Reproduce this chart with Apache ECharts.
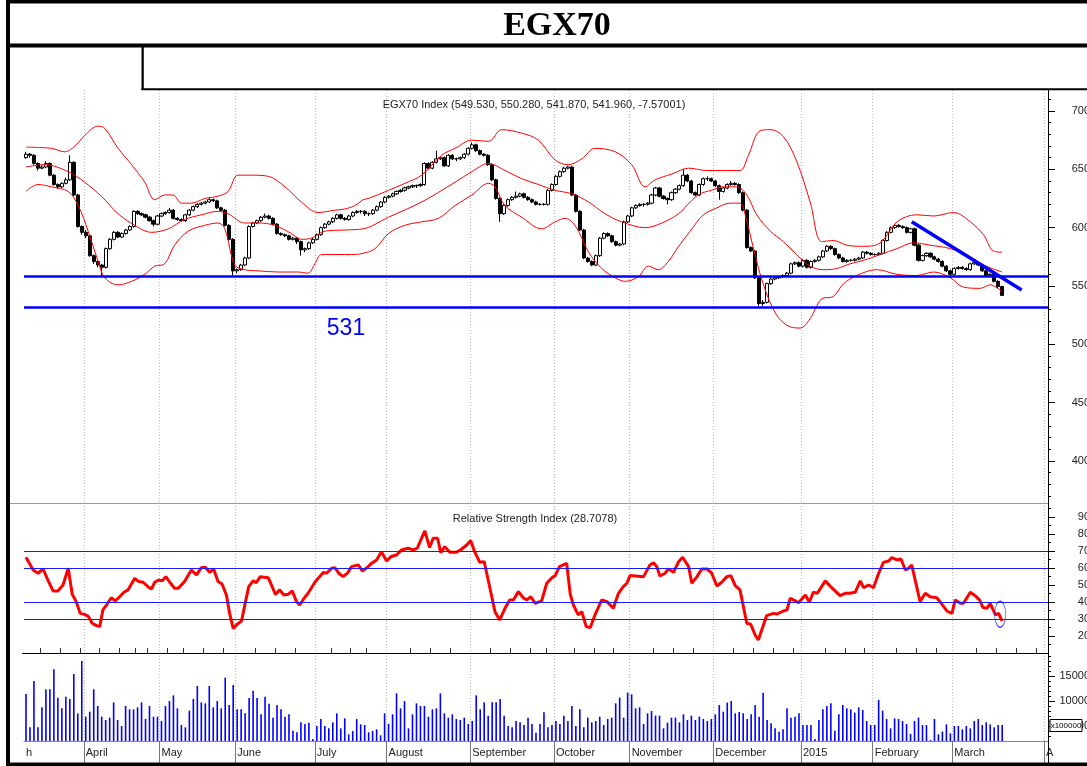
<!DOCTYPE html>
<html>
<head>
<meta charset="utf-8">
<script src="https://cdn.jsdelivr.net/npm/echarts@6/dist/echarts.min.js"></script>
<style>
  html, body { margin: 0; padding: 0; background: #fff; }
  #chart { width: 1087px; height: 766px; }
</style>
</head>
<body>
<div id="chart"></div>
<script>
// trading-day slots on the x axis (data fills 0..245, rest is empty space)
const SLOTS = 257;
const monthStarts = [0, 15, 34, 53, 73, 91, 112, 133, 152, 173, 195, 213, 233, 256];
const monthNames = ['h', 'April', 'May', 'June', 'July', 'August', 'September', 'October', 'November', 'December', '2015', 'February', 'March', 'A'];
const weekTicks = [4, 9, 14, 19, 24, 28, 31, 36, 40, 45, 50, 58, 63, 68, 77, 82, 86, 97, 102, 107, 117, 122, 127, 131, 138, 143, 148, 158, 163, 168, 178, 183, 188, 193, 201, 206, 211, 219, 224, 229, 239, 244, 249, 254];

// EGX70 daily candles
const opens = [660,663,662,655,651,652,655,645,637,635, 638,641,656,628,601,596,593,576,571,568,
  566,582,590,596,592,595,598,601,614,612, 611,609,606,603,610,612,613,615,608,607,
  606,611,615,618,620,621,622,624,623,617, 615,602,590,563,564,568,574,601,604,606,
  609,610,608,603,595,594,593,590,591,588, 581,582,587,590,594,600,603,605,608,611,
  608,607,610,613,614,614,612,612,615,618, 622,626,627,629,631,632,634,635,636,636,
  637,655,651,656,659,660,653,662,659,659, 660,663,668,671,666,663,662,654,641,625,
  612,619,624,626,627,629,626,624,622,620, 620,620,632,637,644,648,651,652,628,614,
  598,574,571,568,576,591,595,593,588,585, 586,605,610,617,619,620,620,621,628,634,
  627,625,624,630,633,636,645,640,630,628, 637,642,642,640,636,631,634,637,638,637,
  630,615,583,580,557,535,536,552,556,557, 558,559,561,569,570,567,572,566,571,572,
  575,580,584,582,577,574,571,572,572,573, 574,579,578,577,577,578,589,596,600,602,
  601,600,596,599,585,572,576,578,575,573, 571,567,563,560,565,566,565,564,569,570,
  568,563,559,560,554,549.53];
const closes = [663,662,655,651,652,655,645,637,635,638, 641,656,628,601,596,593,576,571,568,566,
  582,590,596,592,595,598,601,614,612,611, 609,606,603,610,612,613,615,608,607,606,
  611,615,618,620,621,622,624,623,617,615, 602,590,563,564,568,574,601,604,606,609,
  610,608,603,595,594,593,590,591,588,581, 582,587,590,594,600,603,605,608,611,608,
  607,610,613,614,614,612,612,615,618,622, 626,627,629,631,632,634,635,636,636,637,
  655,651,656,659,660,653,662,659,659,660, 663,668,671,666,663,662,654,641,625,612,
  619,624,626,627,629,626,624,622,620,620, 620,632,637,644,648,651,652,628,614,598,
  574,571,568,576,591,595,593,588,585,586, 605,610,617,619,620,620,621,628,634,627,
  625,624,630,633,636,645,640,630,628,637, 642,642,640,636,631,634,637,638,637,630,
  615,583,580,557,535,536,552,556,557,558, 559,561,569,570,567,572,566,571,572,575,
  580,584,582,577,574,571,572,572,573,574, 579,578,577,577,578,589,596,600,602,601,
  600,596,599,585,572,576,578,575,573,571, 567,563,560,565,566,565,564,569,570,568,
  563,559,560,554,549.53,541.96];
const lows = [659,660,654,649,650,651,644,636,633,634, 637,640,627,600,594,591,575,569,566,558,
  565,581,589,591,591,594,597,600,611,610, 608,605,601,602,609,611,612,607,606,605,
  605,610,614,617,619,620,621,622,616,614, 601,589,559,561,563,567,573,600,603,605,
  608,607,602,594,593,592,589,589,586,576, 579,581,586,589,593,599,602,604,607,607,
  606,606,609,612,612,610,610,611,614,617, 621,625,626,628,630,631,633,634,634,635,
  636,650,650,655,658,652,652,658,657,658, 659,662,667,665,662,661,653,640,624,605,
  611,618,623,625,626,625,623,621,619,619, 619,619,631,636,643,647,650,627,613,597,
  573,570,567,567,575,590,592,587,584,584, 585,604,609,616,618,618,619,620,627,626,
  624,620,623,629,632,635,639,629,627,627, 636,640,639,635,624,630,633,636,636,629,
  614,582,579,556,533,533,535,551,555,556, 557,558,560,568,566,566,565,565,570,571,
  574,579,581,576,573,570,570,571,571,572, 573,577,576,576,576,577,588,595,599,600,
  599,595,595,584,571,571,575,574,572,570, 566,562,559,559,564,564,563,563,568,567,
  562,558,558,553,548,541.87];
const highs = [665,664,663,656,654,657,656,646,638,639, 643,662,657,629,602,598,594,577,572,569,
  583,591,597,597,596,599,602,615,615,613, 612,610,607,611,613,614,617,616,609,608,
  612,616,619,621,622,623,626,625,624,618, 616,603,591,565,569,575,602,605,607,610,
  612,611,609,604,596,595,594,592,592,589, 583,588,591,595,601,604,606,609,612,612,
  609,611,614,615,615,615,613,616,619,623, 627,628,630,632,633,635,636,637,637,638,
  656,656,657,666,661,661,663,663,660,661, 664,669,673,672,667,664,663,655,642,626,
  620,625,627,631,630,630,627,625,623,621, 621,633,638,645,649,652,653,653,629,615,
  599,575,572,577,592,596,596,594,589,587, 606,611,618,620,621,621,622,629,635,635,
  628,626,631,634,637,650,646,641,631,638, 643,644,643,641,637,635,638,640,639,638,
  631,616,584,581,558,538,553,557,558,559, 560,562,570,571,571,573,573,572,573,576,
  581,585,585,583,578,575,573,573,574,575, 580,580,579,578,579,590,597,601,603,603,
  602,601,600,600,586,577,579,579,576,574, 572,568,564,566,567,567,566,570,571,571,
  569,564,561,561,555,550.28];

// Bollinger bands, read as [slot, value] vertices
const bandUpper = [[0,669],[6.4,668],[9.7,665],[12.6,671],[14.7,679],[18.1,687],[19.8,685],[23.1,668],[26.5,654],[29.8,639],[32.3,624],[34.8,628],[36.9,628],[39,621],[41.5,621],[44.9,625],[48.2,627],[50.7,631],[53.2,645],[56.6,645],[60.8,644],[65,635],[69.1,622],[73.3,613],[77.5,615],[80,616],[82.6,619],[84.6,624],[85.9,625],[91,632],[95.1,638],[99.3,645],[104.3,662],[107.7,668],[111.9,675],[116.1,674],[119.4,684],[124.4,681],[128.6,675],[132.8,658],[136.1,654],[139.5,659],[142.8,668],[147.9,665],[152,654],[155.4,635],[157.9,641],[162.1,646],[166.3,651],[170.9,649],[175,649],[179.2,649],[181.3,662],[184.2,683],[186.8,684],[190.1,678],[193.4,657],[196.8,622],[199.7,588],[202.6,589],[206,585],[210.2,584],[214.4,587],[218.6,605],[223.6,611],[227.8,610],[232.8,613],[237,605],[240.3,594],[242.8,580],[245,579]];
const bandMiddle = [[0,652],[4.7,654],[10.6,648],[14.7,639],[18.9,627],[23.1,612],[27.3,602],[31.5,596],[35.7,599],[39.8,607],[44,611],[48.2,614],[50.7,612],[54.9,604],[58.3,604],[62.4,602],[66.6,595],[69.1,590],[71.6,591],[75,597],[80,598],[84.6,599],[91,609],[99.3,622],[107.7,639],[111.9,648],[116.1,655],[120.2,649],[124.4,642],[128.6,637],[132.8,632],[137,629],[141.2,622],[145.3,612],[149.5,605],[155.4,600],[159.6,604],[163.8,612],[166.7,622],[169.2,629],[172,632],[175,635],[178.4,635],[180.9,628],[183.4,611],[186.8,597],[190.1,588],[193.4,577],[196.8,567],[200.1,564],[203.5,565],[206.8,569],[210.2,572],[214.4,577],[218.6,582],[222.7,587],[226.9,585],[232,582],[237,575],[240.3,568],[245,562]];
const bandLower = [[0,631],[3,637],[6.4,635],[10.6,631],[13.1,619],[15.6,597],[18.1,571],[19.8,557],[23.1,551],[26.5,554],[29.8,560],[32.3,567],[34.8,569],[37.3,585],[40.7,597],[44.9,602],[48.2,604],[49.9,599],[52.4,568],[54.9,564],[58.3,563],[63.3,562],[68.3,562],[70.8,561],[72.5,569],[74.2,577],[78.3,577],[81.7,577],[84.6,578],[87.6,582],[91,595],[95.1,602],[99.3,605],[103.5,608],[107.7,619],[111.9,628],[116.1,638],[117.7,635],[120.2,619],[124.4,609],[129.4,599],[132.8,605],[135.3,608],[137.8,602],[141.2,579],[144.5,565],[147.9,557],[150.4,554],[153.7,558],[156.2,567],[158.7,564],[161.2,571],[163.8,584],[166.7,597],[170,611],[173.4,617],[176.7,621],[179.2,621],[180.5,611],[182.6,582],[185.1,551],[188.4,525],[191.8,515],[194.3,514],[196.8,522],[199.7,539],[202.6,541],[205.2,552],[208.5,559],[213.5,564],[218.6,560],[223.6,559],[227.8,562],[232,557],[235.3,549],[239.5,548],[242,551],[245,545]];

const supportLevels = [558, 532];
const trendLine = [[222.3, 605], [249.9, 546.6]];

// RSI vertices [slot, value]
const rsiPts = [[0,66.3],[0.5,65.3],[1.8,58.8],[3,56.9],[4.3,59.4],[5.5,52.9],[6.8,46.5],[8,46.5],[9.3,50],[10.6,59.8],[11.6,44.5],[12.6,40.2],[13.6,33.3],[14.7,32.7],[15.7,31.4],[16.6,27.5],[17.7,26.1],[18.5,25.5],[19.3,35.3],[20.2,38.2],[21.4,42.5],[22.4,40.6],[23.5,43.1],[24.6,45.7],[25.6,47.1],[27.3,53.9],[28.3,52],[29.4,51.6],[30.6,49],[31.5,47.6],[32.3,51.6],[33.3,52.9],[34.2,52.4],[35.1,54.9],[36.1,51.6],[37.3,48],[38.2,48],[39.8,52],[41.5,58.8],[42.8,55.9],[44,60.2],[45,60.4],[46.1,57.5],[47.1,59.4],[48.2,52],[49.2,50.6],[50.3,44.1],[51.1,33.3],[52,24.5],[53.1,27.1],[54.1,28.8],[55.1,40.2],[55.9,49],[57,52.4],[57.8,51.4],[58.8,54.9],[60.8,54.3],[61.6,50],[62.6,44.5],[63.7,47.1],[64.7,44.1],[65.8,44.5],[66.8,46.5],[67.9,40.2],[68.7,38.2],[69.8,42.2],[70.8,45.1],[72.5,51.6],[73.7,54.9],[74.6,57.3],[75.4,56.9],[76.7,59.8],[77.5,60.2],[78.5,56.9],[79.6,54.9],[80.8,57.3],[81.7,60.8],[83.4,61.8],[84.4,58.2],[85.4,59.8],[86.7,62.7],[88,64.7],[89.2,69.6],[90.5,64.1],[91.6,66.7],[93,67.6],[94.2,70.6],[95.9,71.6],[97.2,70.6],[98.2,71.6],[99.3,77.5],[100.1,81.8],[101.3,72],[102.2,77.5],[103.3,77.5],[104.1,69],[105.1,72.5],[106.4,69.2],[108,69.2],[109.3,71],[110.6,73.5],[111.6,76.1],[112.6,69.6],[113.9,63.3],[115,63.7],[116,52.9],[117.7,34.3],[118.9,29.4],[120.2,36.3],[121.4,41.2],[122.3,41.2],[123.6,46.1],[124.8,42.5],[125.7,41.2],[126.7,43.1],[127.8,39.2],[129.4,40.6],[130.7,51],[132,54.3],[132.8,55.5],[133.9,60.8],[135.7,62.7],[136.6,44.5],[137.4,38.2],[138.6,32.4],[139.5,34.3],[140.6,25.5],[141.6,24.9],[142.8,32.4],[144.5,41.2],[145.8,40.2],[147.4,36.3],[148.7,45.1],[149.9,49],[150.8,51],[151.6,55.5],[155,54.9],[156.6,61.8],[157.5,63.1],[158.3,60.8],[159.1,55.3],[160.4,56.9],[161.2,59.4],[162.5,57.5],[163.8,63.7],[164.8,66.3],[166.3,60.8],[167.1,51],[168.4,54.9],[169.6,59.4],[170.9,59.4],[172.1,56.9],[173.4,49.4],[174.6,51.6],[175.9,54.9],[176.9,55.5],[178,49.6],[179.2,47.1],[180.9,27.5],[181.9,26.9],[183,20.6],[183.8,17.6],[185.9,32],[187.6,33.3],[188.4,32.9],[190.1,34.7],[191,35.3],[191.8,42.2],[192.6,41.2],[193.9,39.6],[195.6,44.1],[196.6,39.8],[197.6,45.7],[198.6,45.1],[200.6,52.4],[202.2,48.4],[204.3,43.7],[205.6,45.1],[206.8,45.1],[208.1,45.7],[209.4,52.4],[210.2,48.4],[211.5,50],[212.7,48.4],[214,56.9],[215.2,63.3],[216.5,64.1],[217.3,66.1],[218.6,64.7],[219.6,65.3],[220.7,58.8],[221.5,59.8],[222.3,61.8],[224.4,40.2],[225.7,45.1],[226.9,43.1],[228.6,42.5],[229.9,38.6],[231.1,34.7],[232.4,33.3],[233.2,41.2],[234.5,39.2],[235.3,39.2],[237,45.7],[238.2,43.7],[239.3,41.2],[240.2,36.7],[241.2,36.3],[242,39.2],[243.3,32.4],[244.1,33.3],[245,28.7]];
const rsiLevels = [70, 60, 40, 30];
const rsiMarker = [[244.5, 32.8]];

// volume (x100000)
const volumes = [11400,4730,14000,4730,8730,12330,12330,16330,10670,8530, 10870,10400,15400,7530,18000,6870,7870,12330,9000,6870,
  6200,6670,9730,6200,5000,9000,8330,8330,8730,9730, 6400,9000,6870,6870,6000,9000,10000,11130,8530,5200,
  4730,8070,10400,13000,9730,9530,13000,8730,10000,8530, 14670,9200,13200,8330,8330,7530,10600,12070,10600,7330,
  10870,9470,6670,9200,8330,6870,7330,4070,3730,5730, 5400,5670,2400,5000,6400,5000,4530,5730,7530,4530,
  6530,3330,4000,6400,5330,5200,3730,4000,4330,3130, 7530,5400,7330,11530,8530,10000,4530,7330,9530,9000,
  9000,6870,8330,8530,11530,7530,6670,7330,6400,6200, 6670,5400,6000,11130,8330,9730,7070,9730,9730,10400,
  7070,5000,4730,6000,5730,5200,6670,5400,3670,5400, 7730,4730,5200,6000,5400,7070,6000,9000,5000,8330,
  4730,6670,5730,6000,6870,5200,6400,6670,9530,10670, 6670,11670,11330,8530,8730,5400,7530,8000,7070,7070,
  4530,5670,6670,6670,5730,7330,6200,7070,6200,6870, 6400,6000,6400,7330,9200,7870,9670,10000,7530,7800,
  7530,6400,7330,9200,6870,11670,6200,5530,4530,3870, 4330,8530,6670,6870,7530,5200,5200,5200,2400,6200,
  8330,9000,9530,4070,7330,9200,8530,8330,7670,8730, 8200,6000,5200,5200,10200,8070,6400,4530,6530,6400,
  6000,5400,3400,6000,6670,5200,5200,2200,6400,3330, 3870,5330,3530,5000,5000,4330,5000,4530,6000,6400,
  5200,5730,5330,4730,5200,5200];

const priceTicks = [400, 450, 500, 550, 600, 650, 700];
const priceMinor = [370, 380, 390, 410, 420, 430, 440, 460, 470, 480, 490, 510, 520, 530, 540, 560, 570, 580, 590, 610, 620, 630, 640, 660, 670, 680, 690, 710];
const rsiTicks = [20, 30, 40, 50, 60, 70, 80, 90];
const rsiMinor = [15, 25, 35, 45, 55, 65, 75, 85, 95];
const volTicks = [5000, 10000, 15000];
const volMinor = [3000, 4000, 6000, 7000, 8000, 9000, 11000, 12000, 13000, 14000, 16000, 17000, 18000, 19000];

const FONT = "'Liberation Sans', Arial, sans-serif";
const chart = echarts.init(document.getElementById('chart'));

const cats = Array.from({ length: SLOTS }, (_, i) => String(i));
const candleData = opens.map((o, i) => [o, closes[i], lows[i], highs[i]]);
const labelAt = {};
monthStarts.forEach((s, i) => { labelAt[s] = monthNames[i]; });
const gridStarts = monthStarts.filter(s => s > 0);

const dotted = {
    show: true,
    interval: (i) => gridStarts.includes(i),
    lineStyle: { color: '#bbbbbb', type: [1, 2], width: 1 }
};

function catAxis(gridIndex, extra) {
    return Object.assign({
        type: 'category', gridIndex: gridIndex, data: cats, boundaryGap: true,
        axisLine: { show: false, onZero: false }, axisTick: { show: false }, axisLabel: { show: false },
        splitLine: dotted
    }, extra || {});
}

function valAxis(gridIndex, min, max, major, minor) {
    const common = { type: 'value', gridIndex: gridIndex, position: 'right', min: min, max: max,
        axisLine: { show: false, onZero: false }, splitLine: { show: false } };
    return [
        Object.assign({}, common, {
            axisTick: { show: true, customValues: major, length: 7, lineStyle: { color: '#000' } },
            axisLabel: { show: true, customValues: major, align: 'right', margin: 42,
                formatter: (v) => String(v), color: '#222', fontSize: 11, fontFamily: FONT }
        }),
        Object.assign({}, common, {
            axisTick: { show: true, customValues: minor, length: 3, lineStyle: { color: '#000' } },
            axisLabel: { show: false }
        })
    ];
}

const yAxes = [].concat(
    valAxis(0, 364, 718, priceTicks, priceMinor),
    valAxis(1, 10, 98.2, rsiTicks, rsiMinor),
    valAxis(2, 2000, 19600, volTicks, volMinor)
);

const slotAxis = (g) => ({ type: 'value', gridIndex: g, min: -0.5, max: SLOTS - 0.5, show: false,
    axisLine: { onZero: false } });

const option = {
    animation: false,
    backgroundColor: '#fff',
    grid: [
        { left: 24, right: 39, top: 90, height: 413, outerBoundsMode: 'none' },
        { left: 24, right: 39, top: 503, height: 150, outerBoundsMode: 'none' },
        { left: 24, right: 39, top: 653, height: 88, outerBoundsMode: 'none' }
    ],
    xAxis: [
        catAxis(0),
        catAxis(1),
        catAxis(2, {
            axisLine: { show: true, onZero: false, lineStyle: { color: '#888', width: 1 } },
            axisTick: { show: true, length: 25, interval: (i) => gridStarts.includes(i), lineStyle: { color: '#777' } },
            axisLabel: {
                show: true, interval: (i) => labelAt[i] !== undefined,
                formatter: (v, i) => labelAt[i] || '', align: 'left', margin: 6,
                color: '#222', fontSize: 11, fontFamily: FONT
            }
        }),
        catAxis(2, {
            splitLine: { show: false },
            axisTick: { show: true, length: 5, interval: (i) => weekTicks.includes(i), lineStyle: { color: '#333' } }
        }),
        slotAxis(0),
        slotAxis(1)
    ],
    yAxis: yAxes,
    series: [
        {
            type: 'candlestick', xAxisIndex: 0, yAxisIndex: 0, data: candleData, barWidth: 3.6,
            itemStyle: { color: '#ffffff', color0: '#000000', borderColor: '#000000', borderColor0: '#000000', borderWidth: 1 },
            markLine: {
                silent: true, symbol: 'none', label: { show: false },
                lineStyle: { color: '#0000ff', width: 2.5, type: 'solid' },
                data: supportLevels.map(v => ({ yAxis: v }))
            }
        },
        { type: 'line', xAxisIndex: 4, yAxisIndex: 0, data: bandUpper, smooth: 0.35, symbol: 'none', lineStyle: { color: '#ff0000', width: 1 } },
        { type: 'line', xAxisIndex: 4, yAxisIndex: 0, data: bandMiddle, smooth: 0.35, symbol: 'none', lineStyle: { color: '#ff0000', width: 1 } },
        { type: 'line', xAxisIndex: 4, yAxisIndex: 0, data: bandLower, smooth: 0.35, symbol: 'none', lineStyle: { color: '#ff0000', width: 1 } },
        { type: 'line', xAxisIndex: 4, yAxisIndex: 0, data: trendLine, symbol: 'none', lineStyle: { color: '#0000ff', width: 3.5 }, z: 5 },
        {
            type: 'line', xAxisIndex: 5, yAxisIndex: 2, data: rsiPts, symbol: 'none',
            lineStyle: { color: '#ff0000', width: 3 }, z: 4,
            markLine: {
                silent: true, symbol: 'none', label: { show: false },
                lineStyle: { color: '#1a1aff', width: 1, type: 'solid' },
                data: rsiLevels.map(v => ({ yAxis: v }))
            }
        },
        {
            type: 'scatter', xAxisIndex: 5, yAxisIndex: 2, data: rsiMarker, symbol: 'circle', symbolSize: [11, 26],
            itemStyle: { color: 'rgba(0,0,0,0)', borderColor: '#2020ff', borderWidth: 1 }, z: 6
        },
        {
            type: 'bar', xAxisIndex: 2, yAxisIndex: 4, data: volumes, barWidth: 1.6,
            itemStyle: { color: '#0000ff' }
        }
    ],
    graphic: { elements: [
        { type: 'text', x: 557, y: 26, z: 100, style: { text: 'EGX70', fill: '#000', font: "bold 34px 'Liberation Serif', 'Times New Roman', serif", textAlign: 'center', textVerticalAlign: 'middle' } },
        { type: 'text', x: 534, y: 105, z: 100, style: { text: 'EGX70 Index (549.530, 550.280, 541.870, 541.960, -7.57001)', fill: '#222', font: '11px ' + FONT, textAlign: 'center', textVerticalAlign: 'middle' } },
        { type: 'text', x: 535, y: 519, z: 100, style: { text: 'Relative Strength Index (28.7078)', fill: '#222', font: '11px ' + FONT, textAlign: 'center', textVerticalAlign: 'middle' } },
        { type: 'text', x: 346, y: 329, z: 100, style: { text: '531', fill: '#0000ff', font: "23px 'Liberation Sans Narrow', 'Liberation Sans', Arial, sans-serif", textAlign: 'center', textVerticalAlign: 'middle' } },
        { type: 'line', z: 90, shape: { x1: 10, y1: 503.5, x2: 1048, y2: 503.5 }, style: { stroke: '#999', lineWidth: 1 } },
        { type: 'line', z: 90, shape: { x1: 22, y1: 653.5, x2: 1048, y2: 653.5 }, style: { stroke: '#000', lineWidth: 1.2 } },
        { type: 'line', z: 90, shape: { x1: 1048.5, y1: 90, x2: 1048.5, y2: 766 }, style: { stroke: '#000', lineWidth: 1 } },
        { type: 'rect', z: 110, shape: { x: 1050, y: 719.5, width: 32, height: 12 }, style: { fill: '#fff', stroke: '#000', lineWidth: 1 } },
        { type: 'text', x: 1066, y: 725.5, z: 111, style: { text: 'x100000', fill: '#000', font: '8px ' + FONT, textAlign: 'center', textVerticalAlign: 'middle' } },
        { type: 'rect', z: 120, shape: { x: 6, y: 0, width: 1081, height: 3.5 }, style: { fill: '#000' } },
        { type: 'rect', z: 120, shape: { x: 6, y: 0, width: 4, height: 766 }, style: { fill: '#000' } },
        { type: 'rect', z: 120, shape: { x: 6, y: 43.5, width: 1081, height: 4 }, style: { fill: '#000' } },
        { type: 'rect', z: 120, shape: { x: 141.5, y: 45, width: 2.3, height: 45 }, style: { fill: '#000' } },
        { type: 'rect', z: 120, shape: { x: 141.5, y: 88.3, width: 946, height: 2 }, style: { fill: '#000' } },
        { type: 'rect', z: 120, shape: { x: 6, y: 762.5, width: 1081, height: 4 }, style: { fill: '#000' } }
    ] }
};

chart.setOption(option);
</script>
</body>
</html>
